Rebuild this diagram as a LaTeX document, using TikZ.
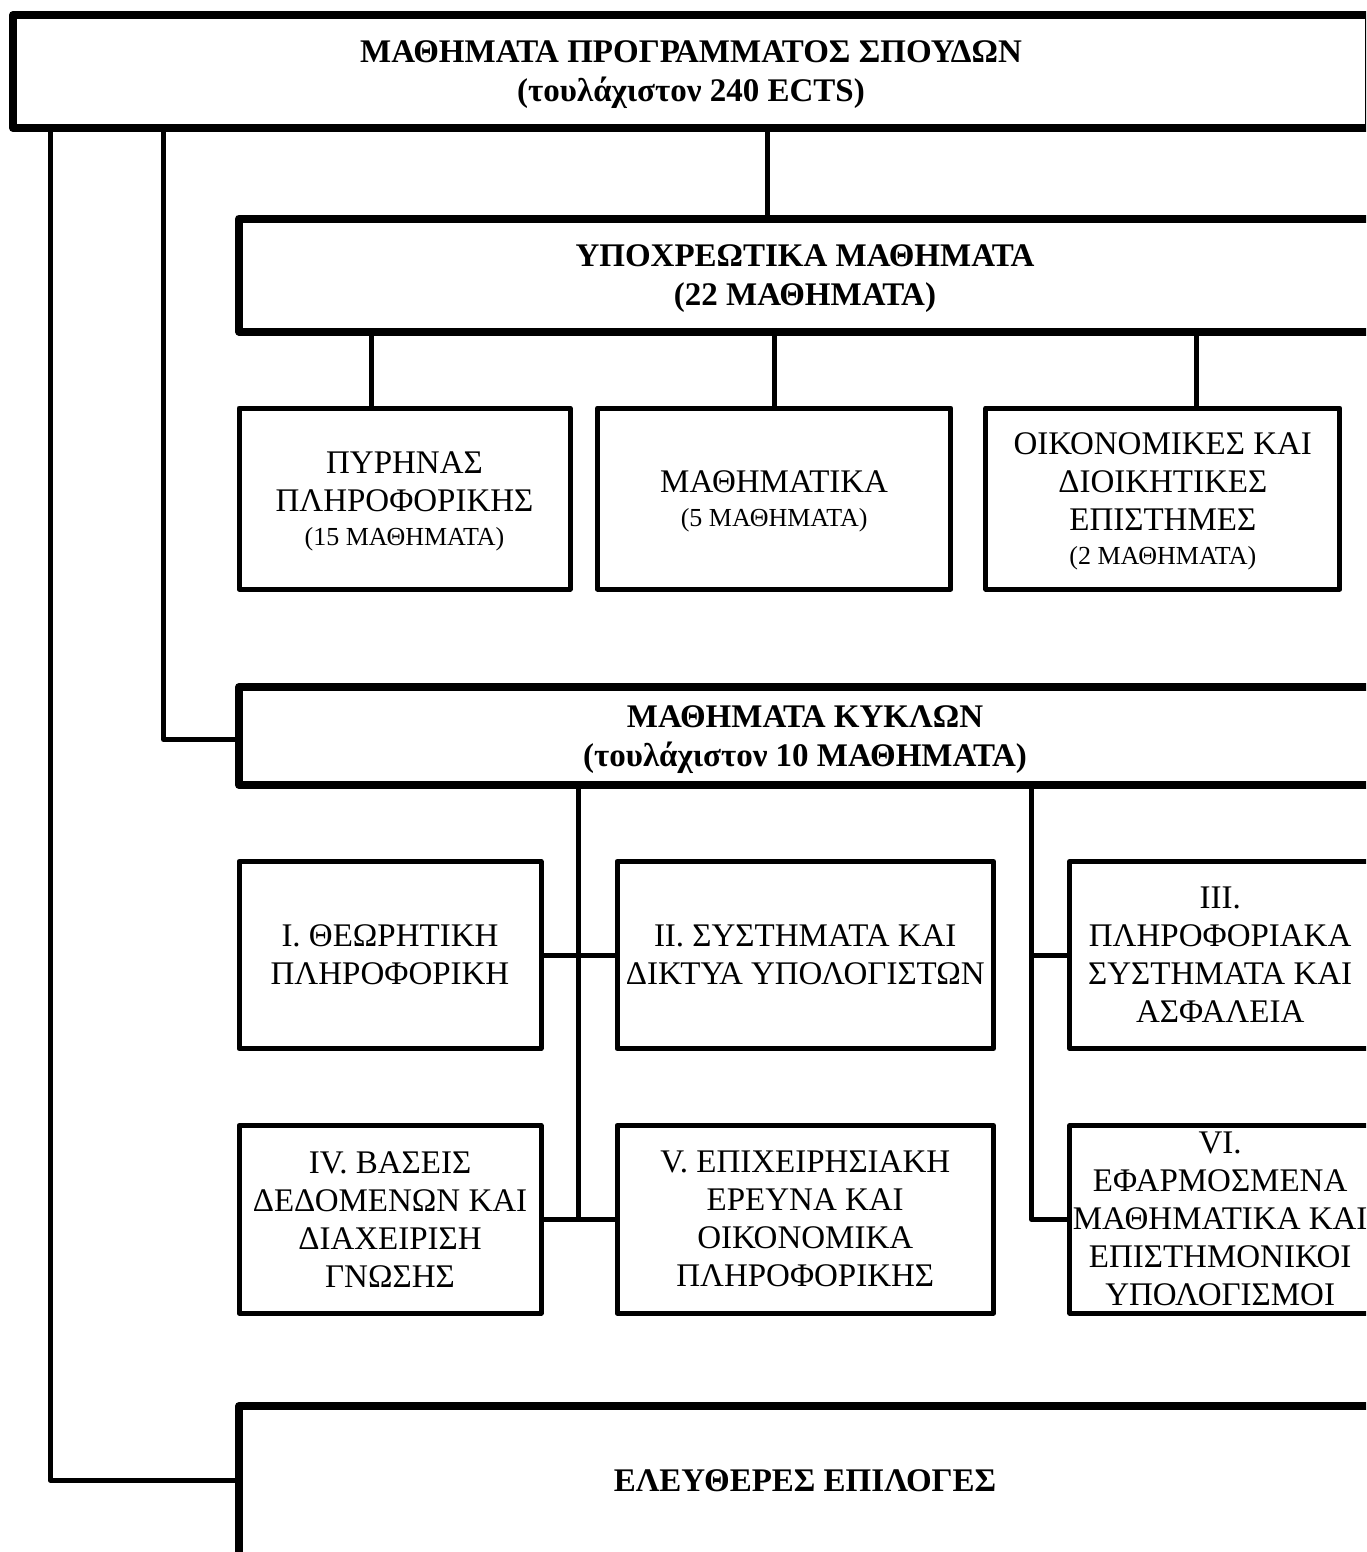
\documentclass[tikz,border=0pt]{standalone}
\usepackage{fontspec}
\setmainfont{Liberation Serif}
\usetikzlibrary{calc}
\newcommand{\nodepthline}[1]{\raisebox{0pt}[\height][0pt]{#1}}
\newcommand{\smallcount}[1]{\nodepthline{\fontsize{26}{30}\selectfont #1}}
\begin{document}
\begin{tikzpicture}[x=1pt,y=-1pt,
  bigbox/.style={draw, line width=8pt, line join=round, rectangle, inner sep=0pt, align=center,
    font=\bfseries\fontsize{33}{39}\selectfont},
  smallbox/.style={draw, line width=5pt, line join=round, rectangle, inner sep=0pt, align=center,
    font=\fontsize{33}{38}\selectfont},
  conn/.style={line width=5pt, line join=round, line cap=butt}]
\useasboundingbox (0,0) rectangle (1366,1552);
\clip (0,0) rectangle (1366,1552);

% big boxes
\node[bigbox, minimum width=1356, minimum height=113] (top) at (691,71.5)
  {ΜΑΘΗΜΑΤΑ ΠΡΟΓΡΑΜΜΑΤΟΣ ΣΠΟΥΔΩΝ\\\nodepthline{(τουλάχιστον 240 ECTS)}};
\node[bigbox, minimum width=1132, minimum height=113] (req) at (805,275)
  {ΥΠΟΧΡΕΩΤΙΚΑ ΜΑΘΗΜΑΤΑ\\\nodepthline{(22 ΜΑΘΗΜΑΤΑ)}};
\node[bigbox, minimum width=1132, minimum height=98] (kyk) at (805,736)
  {ΜΑΘΗΜΑΤΑ ΚΥΚΛΩΝ\\\nodepthline{(τουλάχιστον 10 ΜΑΘΗΜΑΤΑ)}};
\node[bigbox, minimum width=1132, minimum height=150] (elev) at (805,1481)
  {ΕΛΕΥΘΕΡΕΣ ΕΠΙΛΟΓΕΣ};

% required sub-boxes
\node[smallbox, minimum width=331, minimum height=181] (b1) at (404.5,498.5)
  {ΠΥΡΗΝΑΣ\\ΠΛΗΡΟΦΟΡΙΚΗΣ\\[-4.5pt]\smallcount{(15 ΜΑΘΗΜΑΤΑ)}};
\node[smallbox, minimum width=353.3, minimum height=181] (b2) at (774.15,498.5)
  {ΜΑΘΗΜΑΤΙΚΑ\\[-4.5pt]\smallcount{(5 ΜΑΘΗΜΑΤΑ)}};
\node[smallbox, minimum width=354, minimum height=181] (b3) at (1162.8,498.5)
  {ΟΙΚΟΝΟΜΙΚΕΣ ΚΑΙ\\ΔΙΟΙΚΗΤΙΚΕΣ\\ΕΠΙΣΤΗΜΕΣ\\[-4.5pt]\smallcount{(2 ΜΑΘΗΜΑΤΑ)}};

% cycle boxes
\node[smallbox, minimum width=302, minimum height=187] (c1) at (390,955)
  {I. ΘΕΩΡΗΤΙΚΗ\\ΠΛΗΡΟΦΟΡΙΚΗ};
\node[smallbox, minimum width=376.5, minimum height=187] (c2) at (805.25,955)
  {II. ΣΥΣΤΗΜΑΤΑ ΚΑΙ\\ΔΙΚΤΥΑ ΥΠΟΛΟΓΙΣΤΩΝ};
\node[smallbox, minimum width=300.7, minimum height=187] (c3) at (1220.15,955)
  {III.\\ΠΛΗΡΟΦΟΡΙΑΚΑ\\ΣΥΣΤΗΜΑΤΑ ΚΑΙ\\ΑΣΦΑΛΕΙΑ};
\node[smallbox, minimum width=302, minimum height=187.5] (c4) at (390,1219.25)
  {IV. ΒΑΣΕΙΣ\\ΔΕΔΟΜΕΝΩΝ ΚΑΙ\\ΔΙΑΧΕΙΡΙΣΗ\\ΓΝΩΣΗΣ};
\node[smallbox, minimum width=376.5, minimum height=187.5] (c5) at (805.25,1219.25)
  {V. ΕΠΙΧΕΙΡΗΣΙΑΚΗ\\ΕΡΕΥΝΑ ΚΑΙ\\ΟΙΚΟΝΟΜΙΚΑ\\ΠΛΗΡΟΦΟΡΙΚΗΣ};
\node[smallbox, minimum width=300.7, minimum height=187.5] (c6) at (1220.15,1219.25)
  {VI.\\ΕΦΑΡΜΟΣΜΕΝΑ\\ΜΑΘΗΜΑΤΙΚΑ ΚΑΙ\\ΕΠΙΣΤΗΜΟΝΙΚΟΙ\\ΥΠΟΛΟΓΙΣΜΟΙ};

% connector x positions
\coordinate (xa) at (50,0);
\coordinate (xb) at (163.5,0);
\coordinate (xc) at (767.7,0);
\coordinate (xr1) at (371,0);
\coordinate (xr2) at (774,0);
\coordinate (xr3) at (1196.8,0);
\coordinate (xk1) at (578.5,0);
\coordinate (xk2) at (1031.5,0);
\coordinate (kin) at ($(kyk.west)+(0,3.5)$);
\coordinate (ein) at ($(elev.west)+(0,-1)$);

% connectors
\draw[conn] (xc |- top.south) -- (xc |- req.north);
\draw[conn] (xb |- top.south) |- (kin);
\draw[conn] (xa |- top.south) |- (ein);
\draw[conn] (xr1 |- req.south) -- (xr1 |- b1.north);
\draw[conn] (xr2 |- req.south) -- (xr2 |- b2.north);
\draw[conn] (xr3 |- req.south) -- (xr3 |- b3.north);
\draw[conn] (xk1 |- kyk.south) -- (xk1 |- c4.east);
\draw[conn] (c1.east) -- (c2.west);
\draw[conn] (c4.east) -- (c5.west);
\draw[conn] (xk2 |- kyk.south) |- (c6.west);
\draw[conn] (xk2 |- c3.west) -- (c3.west);
\end{tikzpicture}
\end{document}
